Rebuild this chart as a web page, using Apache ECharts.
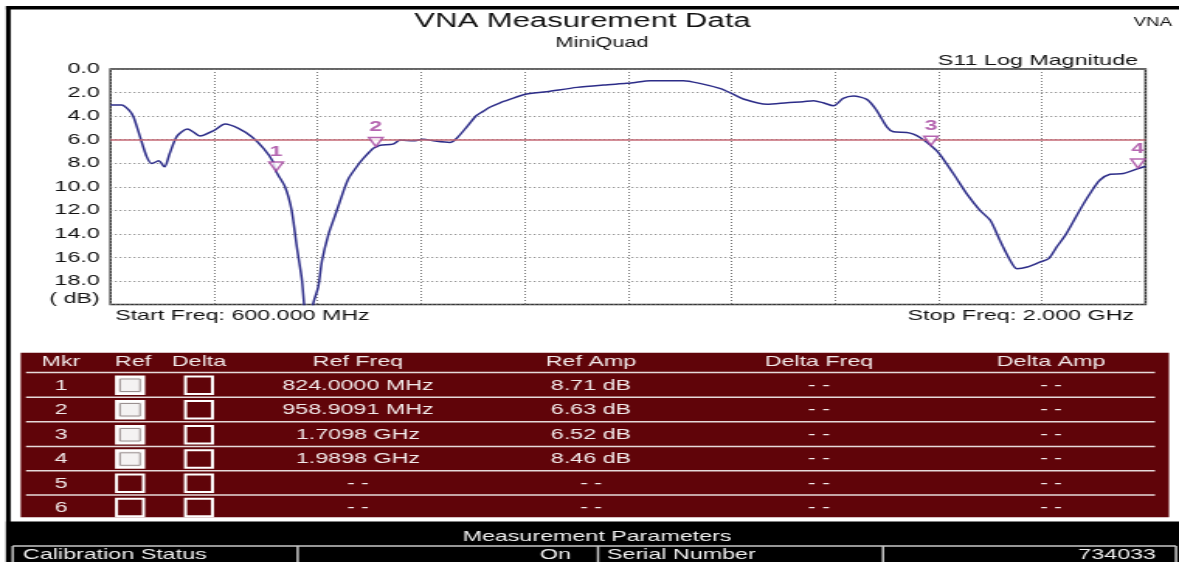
<!DOCTYPE html>
<html>
<head>
<meta charset="utf-8">
<title>VNA Measurement Data</title>
<script src="https://cdn.jsdelivr.net/npm/echarts@6/dist/echarts.min.js"></script>
<style>
  html, body { margin: 0; padding: 0; background: #fff; overflow: hidden; }
  /* the reference screenshot is stretched sideways, so draw narrow and widen */
  #chart { width: 760px; height: 562px; transform: scaleX(1.5513); transform-origin: 0 0; }
</style>
</head>
<body>
<div id="chart"></div>
<script>
// sweep frequency (MHz) and S11 log magnitude (dB, axis runs downward)
const freqs = [600, 615, 625, 631, 640, 649, 656, 665, 673, 680,
  690, 704, 712, 721, 739, 755, 773, 791, 807, 820,
  824, 836, 845, 852, 859, 868, 874, 881, 886, 895,
  904, 915, 922, 933, 942, 955, 959, 965, 982, 992,
  1010, 1023, 1037, 1059, 1068, 1082, 1095, 1104, 1113, 1127,
  1140, 1160, 1190, 1231, 1267, 1298, 1307, 1330, 1375, 1397,
  1424, 1440, 1456, 1488, 1515, 1537, 1551, 1564, 1578, 1591,
  1605, 1623, 1636, 1650, 1659, 1677, 1686, 1695, 1710, 1721,
  1740, 1758, 1776, 1790, 1803, 1817, 1826, 1840, 1857, 1869,
  1880, 1893, 1911, 1925, 1938, 1952, 1970, 1990, 2000]
const s11 = [3.06, 3.06, 3.5, 4.06, 5.76, 7.46, 8.03, 7.8, 8.31, 7.18,
  5.70, 5.10, 5.35, 5.70, 5.25, 4.68, 5.05, 5.76, 6.75, 7.89,
  8.71, 10.0, 12.0, 15.1, 17.96, 24.0, 20.0, 18.5, 16.3, 14.0,
  12.4, 10.4, 9.3, 8.3, 7.6, 6.75, 6.63, 6.47, 6.38, 6.04,
  6.1, 5.96, 6.1, 6.24, 5.9, 4.91, 3.95, 3.6, 3.25, 2.87,
  2.58, 2.16, 1.93, 1.56, 1.36, 1.22, 1.16, 0.99, 0.99, 1.22,
  1.65, 2.07, 2.55, 3.0, 2.87, 2.78, 2.7, 2.87, 3.12, 2.5,
  2.3, 2.58, 3.49, 4.91, 5.33, 5.39, 5.53, 5.82, 6.52, 7.18,
  8.88, 10.58, 12.0, 12.85, 14.55, 16.26, 16.96, 16.82, 16.4, 16.1,
  15.1, 13.98, 12.0, 10.58, 9.45, 8.94, 8.88, 8.46, 8.26]
const refLevel = 6.0

// markers
const markerFreqs = [824.0, 958.9091, 1709.8, 1989.8]
const markerAmps = [8.71, 6.63, 6.52, 8.46]
const markerRows = [1, 2, 3, 4, 5, 6]

const yTickLabels = ['0.0', '2.0', '4.0', '6.0', '8.0', '10.0', '12.0', '14.0', '16.0', '18.0', '( dB)']
const tableHeaders = ['Mkr', 'Ref', 'Delta', 'Ref Freq', 'Ref Amp', 'Delta Freq', 'Delta Amp']
const paramLabels = ['Calibration Status', 'On', 'Serial Number', '734033']

const FONT = '"Liberation Sans", Arial, sans-serif'
const S = 1179 / 760
const sx = x => x / S   // reference pixel x -> drawing x

const fmtFreq = f => f < 1000 ? f.toFixed(4) + ' MHz' : (f / 1000).toFixed(4) + ' GHz'
const fmtAmp = a => a.toFixed(2) + ' dB'

const els = []
function text (str, x, y, opt) {
  els.push({
    type: 'text', x: sx(x), y: y, silent: true,
    style: Object.assign({ text: str, fill: '#111', fontSize: 15, fontFamily: FONT, align: 'left', verticalAlign: 'middle' }, opt)
  })
}
function rect (x1, y1, x2, y2, style) {
  els.push({ type: 'rect', silent: true, shape: { x: sx(x1), y: y1, width: sx(x2 - x1), height: y2 - y1 }, style: style })
}
function line (x1, y1, x2, y2, color, w) {
  els.push({ type: 'line', silent: true, shape: { x1: sx(x1), y1: y1, x2: sx(x2), y2: y2 }, style: { stroke: color, lineWidth: w } })
}

// outer frame
rect(6, 6, 1179, 9.5, { fill: '#000' })
rect(6, 6, 10.7, 562, { fill: '#000' })

// titles
text('VNA Measurement Data', 582.5, 21, { fontSize: 20, align: 'center' })
text('MiniQuad', 602, 43, { fontSize: 14, align: 'center' })
text('VNA', 1172, 23, { fontSize: 12, align: 'right' })
text('S11 Log Magnitude', 1138, 61, { align: 'right' })
text('Start Freq: 600.000 MHz', 115, 316)
text('Stop Freq: 2.000 GHz', 1134, 316, { align: 'right' })

// marker table
const colX = [61, 130, 199, 358, 591, 819, 1051]
const rowY = [385.5, 410, 435, 459.3, 483.5, 507.7]
const sepY = [372.5, 397.3, 421.8, 446.6, 470.8, 495]
const tFill = '#f2eaea'
rect(20.7, 352.7, 1169, 517.3, { fill: '#600409' })
tableHeaders.forEach((h, i) => text(h, i === 1 ? 133 : colX[i], 362, { fill: tFill, align: 'center' }))
sepY.forEach(y => line(26, y, 1155, y, '#e6dada', 1.5))
markerRows.forEach((m, r) => {
  const y = rowY[r]
  const on = r < markerFreqs.length
  text(String(m), colX[0], y, { fill: tFill, align: 'center' })
  rect(116.5, y - 9, 143.5, y + 8.5, { fill: on ? '#f4f2f2' : 'none', stroke: '#fff', lineWidth: 2 })
  if (on) rect(120, y - 6.5, 140, y + 6, { fill: 'none', stroke: '#9a9090', lineWidth: 1 })
  rect(185.5, y - 9, 212.5, y + 8.5, { fill: 'none', stroke: '#fff', lineWidth: 2 })
  text(on ? fmtFreq(markerFreqs[r]) : '- -', colX[3], y, { fill: tFill, align: 'center' })
  text(on ? fmtAmp(markerAmps[r]) : '- -', colX[4], y, { fill: tFill, align: 'center' })
  text('- -', colX[5], y, { fill: tFill, align: 'center' })
  text('- -', colX[6], y, { fill: tFill, align: 'center' })
})

// measurement parameters strip
rect(6, 521.5, 1179, 562, { fill: '#000' })
text('Measurement Parameters', 597, 537, { fill: '#f0f0f0', align: 'center' })
line(12.7, 546, 1176, 546, '#c8c8c8', 1.5)
;[12.7, 297.7, 598, 883, 1176].forEach(x => line(x, 546, x, 562, '#c8c8c8', 1.5))
text(paramLabels[0], 23, 554.5, { fill: '#f0f0f0' })
text(paramLabels[1], 571, 554.5, { fill: '#f0f0f0', align: 'right' })
text(paramLabels[2], 607, 554.5, { fill: '#f0f0f0' })
text(paramLabels[3], 1156, 554.5, { fill: '#f0f0f0', align: 'right' })

const chart = echarts.init(document.getElementById('chart'), null, { width: 760, height: 562 })

chart.setOption({
  animation: false,
  textStyle: { fontFamily: FONT },
  grid: {
    left: sx(110.5),
    right: sx(1179 - 1145.5),
    top: 69,
    bottom: 562 - 304.5,
    show: true,
    borderColor: '#333',
    borderWidth: 1.5,
    backgroundColor: 'transparent'
  },
  xAxis: {
    type: 'value',
    min: 600,
    max: 2000,
    interval: 140,
    axisLine: { show: false },
    axisTick: { show: false },
    axisLabel: { show: false },
    splitLine: { lineStyle: { color: '#777', width: 1, type: [1, 2] } }
  },
  yAxis: {
    type: 'value',
    inverse: true,
    min: 0,
    max: 20,
    interval: 2,
    axisLine: { show: false },
    axisTick: { show: false },
    axisLabel: {
      margin: 7,
      color: '#111',
      fontSize: 15,
      formatter: v => {
        const i = Math.round(v / 2)
        return i === yTickLabels.length - 1 ? '{u|' + yTickLabels[i] + '}' : yTickLabels[i]
      },
      rich: { u: { fontSize: 15, color: '#111', padding: [0, 0, 12, 0] } }
    },
    splitLine: { lineStyle: { color: '#777', width: 1, type: [1, 2] } }
  },
  graphic: els,
  series: [{
    name: 'S11',
    type: 'line',
    data: freqs.map((f, i) => [f, s11[i]]),
    symbol: 'none',
    smooth: 0.25,
    clip: true,
    lineStyle: { color: '#2c2c88', width: 1.5 },
    markLine: {
      silent: true,
      symbol: 'none',
      label: { show: false },
      lineStyle: { color: '#c46874', width: 1.5, type: 'solid' },
      data: [{ yAxis: refLevel }]
    }
  }, {
    name: 'Markers',
    type: 'scatter',
    data: markerFreqs.map((f, i) => [f, markerAmps[i]]),
    symbol: 'path://M0 0L10 0L5 9Z',
    symbolSize: [9, 9],
    symbolOffset: [0, -5],
    clip: false,
    itemStyle: { color: '#fff', borderColor: '#a2409c', borderWidth: 1.5 },
    label: {
      show: true,
      position: 'top',
      distance: 2,
      formatter: p => String(p.dataIndex + 1),
      color: '#a2409c',
      fontSize: 15,
      fontWeight: 'bold'
    },
    z: 5
  }]
})
</script>
</body>
</html>
